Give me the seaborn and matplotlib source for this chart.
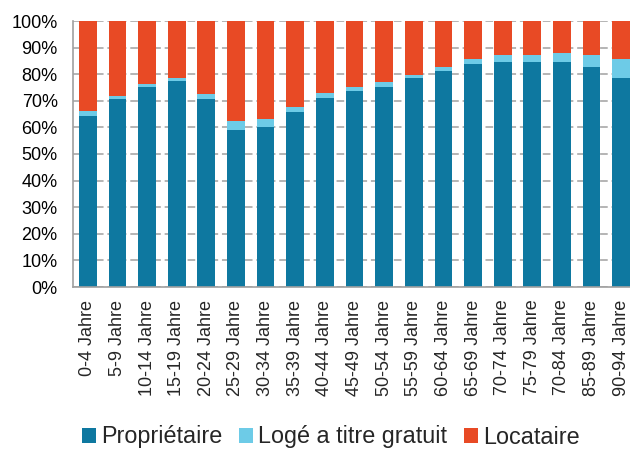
import numpy as np
import pandas as pd
import matplotlib
matplotlib.use("Agg")
import matplotlib.pyplot as plt
import seaborn as sns
from matplotlib.patches import Patch
from matplotlib.ticker import FixedLocator, PercentFormatter

# Data (shares in %)
ages = ["0-4 Jahre", "5-9 Jahre", "10-14 Jahre", "15-19 Jahre", "20-24 Jahre",
        "25-29 Jahre", "30-34 Jahre", "35-39 Jahre", "40-44 Jahre", "45-49 Jahre",
        "50-54 Jahre", "55-59 Jahre", "60-64 Jahre", "65-69 Jahre", "70-74 Jahre",
        "75-79 Jahre", "70-84 Jahre", "85-89 Jahre", "90-94 Jahre"]
proprietaire = [64.4, 70.6, 75.2, 77.3, 70.6, 59.0, 60.3, 65.7, 71.2, 73.8,
                75.1, 78.4, 81.2, 84.0, 84.6, 84.6, 84.6, 82.6, 78.4]
loge_gratuit = [1.9, 1.1, 1.2, 1.1, 1.8, 3.3, 2.7, 1.9, 1.8, 1.3,
                2.1, 1.4, 1.4, 1.9, 2.6, 2.6, 3.4, 4.6, 7.5]
locataire = [100 - p - l for p, l in zip(proprietaire, loge_gratuit)]

series = ["Propriétaire", "Logé a titre gratuit", "Locataire"]
colors = ["#0E78A0", "#6DCBE7", "#E84A25"]

df = pd.DataFrame({"age": ages, "p": proprietaire, "l": loge_gratuit, "r": locataire})
df["pl"] = df["p"] + df["l"]
df["total"] = df["pl"] + df["r"]

sns.set_style("white")
plt.rcParams["font.family"] = ["Liberation Sans", "DejaVu Sans"]

fig = plt.figure(figsize=(6.3, 4.5), dpi=100)
ax = fig.add_axes([73 / 630, 1 - 287 / 450, (636 - 73) / 630, 266 / 450])

# stacked bars: draw the cumulative totals back to front
for col, c in zip(["total", "pl", "p"], colors[::-1]):
    sns.barplot(data=df, x="age", y=col, color=c, width=0.6,
                saturation=1, linewidth=0, ax=ax, zorder=2)

ax.set_ylim(0, 100)
ax.set_xlim(-0.5, len(ages) - 0.5)
ax.yaxis.set_major_locator(FixedLocator(np.arange(0, 101, 10)))
ax.yaxis.set_major_formatter(PercentFormatter(decimals=0))
ax.grid(axis="y", color="#A0A0A0", linestyle=(0, (5, 2.5)), linewidth=1.1, zorder=0)
ax.set_axisbelow(True)

ax.set_xlabel("")
ax.set_ylabel("")
ax.tick_params(axis="y", length=0, pad=11, labelsize=13, colors="#000000")
ax.tick_params(axis="x", which="major", length=0, pad=9, labelsize=13, rotation=90)
ax.xaxis.set_minor_locator(FixedLocator(np.arange(-0.5, len(ages), 1)))
ax.tick_params(axis="x", which="minor", length=4, width=1, color="#A0A0A0", direction="out")

for side in ["top", "right"]:
    ax.spines[side].set_visible(False)
for side in ["left", "bottom"]:
    ax.spines[side].set_color("#A0A0A0")
    ax.spines[side].set_linewidth(1.2)

handles = [Patch(facecolor=c, edgecolor="none") for c in colors]
fig.legend(handles, series, loc="center left", bbox_to_anchor=(82 / 630, 13 / 450),
           ncol=3, frameon=False, fontsize=16.8, handlelength=0.6, handleheight=0.6,
           handletextpad=0.22, columnspacing=0.72, borderpad=0, borderaxespad=0)

fig.savefig("out.png", dpi=100)
